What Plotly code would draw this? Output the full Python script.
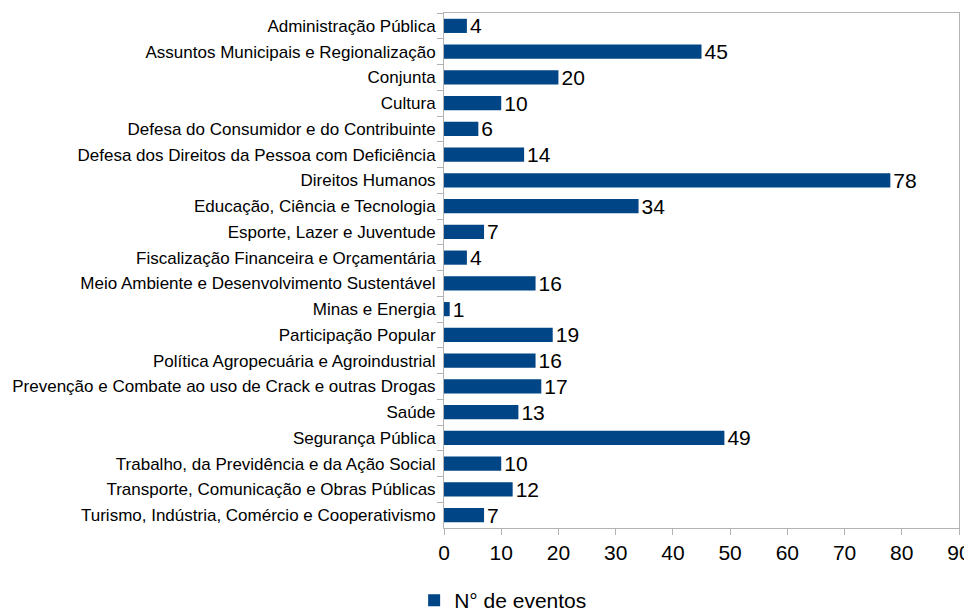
import plotly.graph_objects as go

categories = [
    "Administração Pública",
    "Assuntos Municipais e Regionalização",
    "Conjunta",
    "Cultura",
    "Defesa do Consumidor e do Contribuinte",
    "Defesa dos Direitos da Pessoa com Deficiência",
    "Direitos Humanos",
    "Educação, Ciência e Tecnologia",
    "Esporte, Lazer e Juventude",
    "Fiscalização Financeira e Orçamentária",
    "Meio Ambiente e Desenvolvimento Sustentável",
    "Minas e Energia",
    "Participação Popular",
    "Política Agropecuária e Agroindustrial",
    "Prevenção e Combate ao uso de Crack e outras Drogas",
    "Saúde",
    "Segurança Pública",
    "Trabalho, da Previdência e da Ação Social",
    "Transporte, Comunicação e Obras Públicas",
    "Turismo, Indústria, Comércio e Cooperativismo",
]
values = [4, 45, 20, 10, 6, 14, 78, 34, 7, 4, 16, 1, 19, 16, 17, 13, 49, 10, 12, 7]
series_name = "N° de eventos"
x_ticks = [0, 10, 20, 30, 40, 50, 60, 70, 80, 90]

fig = go.Figure()
fig.add_trace(go.Bar(
    y=categories,
    x=values,
    orientation="h",
    name=series_name,
    marker=dict(color="#004586", line=dict(width=0)),
    text=[str(v) for v in values],
    textposition="outside",
    constraintext="none",
    textfont=dict(size=21, color="#000000"),
    cliponaxis=False,
    showlegend=True,
))

# page body has an 8px margin, so the figure is 8px smaller than the window
fig.update_layout(
    width=964,
    height=605,
    margin=dict(l=436, r=13, t=5, b=85, autoexpand=False),
    paper_bgcolor="white",
    plot_bgcolor="white",
    font=dict(family="Liberation Sans", color="#000000"),
    bargap=0.45,
    showlegend=True,
    legend=dict(
        orientation="h",
        x=-0.058,
        xanchor="left",
        y=-0.141,
        yanchor="middle",
        font=dict(size=21),
        itemwidth=30,
    ),
)

fig.update_xaxes(
    range=[0, 90],
    tickvals=x_ticks,
    showgrid=False,
    zeroline=False,
    showline=True,
    linecolor="#b3b3b3",
    linewidth=1,
    mirror=True,
    ticks="outside",
    ticklen=6,
    tickcolor="#b3b3b3",
    tickfont=dict(size=21),
    automargin=False,
)
fig.update_yaxes(
    autorange="reversed",
    showgrid=False,
    showline=True,
    linecolor="#b3b3b3",
    linewidth=1,
    mirror=True,
    ticks="outside",
    tickson="boundaries",
    ticklen=6,
    tickcolor="#b3b3b3",
    tickfont=dict(size=17),
    ticklabelstandoff=4,
    automargin=False,
)

fig.write_html("out.html")
